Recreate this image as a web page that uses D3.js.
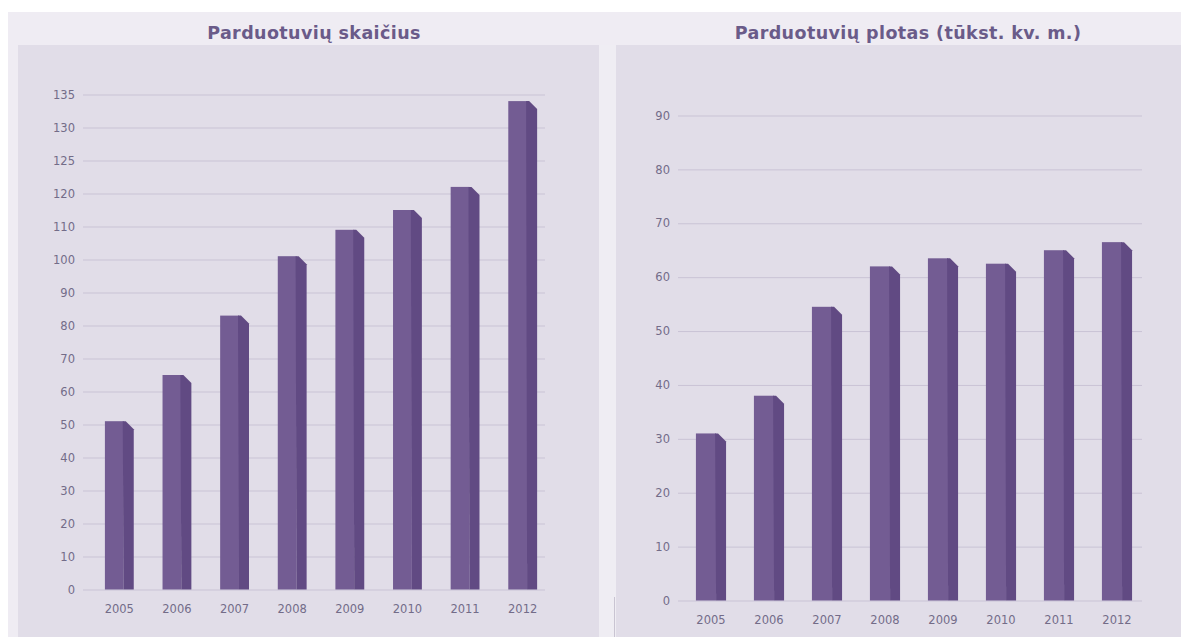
<!DOCTYPE html>
<html>
<head>
<meta charset="utf-8">
<script src="https://cdn.jsdelivr.net/npm/d3@7/dist/d3.min.js"></script>
<style>
  html, body { margin: 0; padding: 0; background: #ffffff; }
  svg { display: block; }
  .tick text { font-family: "DejaVu Sans", Verdana, sans-serif; font-size: 11.5px; fill: #736c88; }
  .title { font-family: "DejaVu Sans", Verdana, sans-serif; font-weight: bold; font-size: 17.5px; letter-spacing: 0.4px; fill: #6a5b89; }
</style>
</head>
<body>
<script>
// Years shown on both charts
const years = ["2005", "2006", "2007", "2008", "2009", "2010", "2011", "2012"];

// Number of stores per year
const storeCounts = [51, 65, 83, 101, 109, 115, 121, 134];
// Store floor area, thousand sq. m
const storeArea = [31, 38, 54.5, 62, 63.5, 62.5, 65, 66.5];

// Tick labels of the two value axes
const countTicks = [0, 10, 20, 30, 40, 50, 60, 70, 80, 90, 100, 110, 120, 125, 130, 135];
const areaTicks = [0, 10, 20, 30, 40, 50, 60, 70, 80, 90];

const titles = ["Parduotuvių skaičius", "Parduotuvių plotas (tūkst. kv. m.)"];

const W = 1181, H = 637;
const svg = d3.select("body").append("svg").attr("width", W).attr("height", H);

// panel backgrounds
svg.append("rect").attr("x", 0).attr("y", 0).attr("width", W).attr("height", H).attr("fill", "#ffffff");
svg.append("rect").attr("x", 8).attr("y", 12).attr("width", W - 8).attr("height", H - 12).attr("fill", "#efecf3");
svg.append("rect").attr("x", 18).attr("y", 45).attr("width", 581).attr("height", H - 45).attr("fill", "#e1dde8");
svg.append("rect").attr("x", 599).attr("y", 45).attr("width", 17).attr("height", H - 45).attr("fill", "#efedf3");
svg.append("rect").attr("x", 616).attr("y", 45).attr("width", W - 616).attr("height", H - 45).attr("fill", "#e1dde8");
svg.append("line").attr("x1", 614.5).attr("x2", 614.5).attr("y1", 597).attr("y2", H)
  .attr("stroke", "#c9c4d2").attr("stroke-width", 1);

const FRONT = "#735c93";
const SIDE = "#614a83";

function drawChart(opt) {
  const g = svg.append("g");

  g.append("text").attr("class", "title")
    .attr("x", opt.titleX).attr("y", 39)
    .attr("text-anchor", "middle")
    .text(opt.title);

  const x = d3.scaleBand().domain(years).range(opt.xRange).paddingInner(opt.pad).paddingOuter(opt.pad / 2);
  const y = opt.y;

  // horizontal grid with labels
  const yAxis = d3.axisLeft(y)
    .tickValues(opt.ticks)
    .tickSize(-(opt.gridEnd - opt.gridStart))
    .tickPadding(8)
    .tickFormat(d3.format("d"));
  const ya = g.append("g").attr("transform", `translate(${opt.gridStart},0)`).call(yAxis);
  ya.select(".domain").remove();
  ya.selectAll(".tick line").attr("stroke", "#c9c3d5").attr("stroke-width", 1);

  // category labels
  const xAxis = d3.axisBottom(x).tickSize(0).tickPadding(15);
  const xa = g.append("g").attr("transform", `translate(0,${y(0)})`).call(xAxis);
  xa.select(".domain").remove();

  // bars: a front face plus a darker bevelled side face
  const side = opt.side, bevel = 8;
  const bars = g.selectAll(".bar").data(opt.values).join("g").attr("class", "bar");
  bars.append("rect")
    .attr("x", (d, i) => x(years[i]))
    .attr("y", d => y(d))
    .attr("width", x.bandwidth() - side)
    .attr("height", d => y(0) - y(d))
    .attr("fill", FRONT);
  bars.append("path")
    .attr("d", (d, i) => {
      const x0 = x(years[i]) + x.bandwidth() - side;
      const x1 = x(years[i]) + x.bandwidth();
      const t = y(d), b = y(0);
      return `M${x0 - 1},${t}L${x0 + 2},${t}L${x1},${t + bevel}L${x1},${b}L${x0},${b}Z`;
    })
    .attr("fill", SIDE);
}

drawChart({
  title: titles[0],
  titleX: 314,
  values: storeCounts,
  ticks: countTicks,
  // evenly spaced labels: the top three steps are 5 units apart
  y: d3.scaleLinear().domain([0, 120, 135]).range([589.5, 193.5, 94.5]),
  gridStart: 83, gridEnd: 545,
  xRange: [90.5, 551.5],
  pad: 0.5,
  side: 10
});

drawChart({
  title: titles[1],
  titleX: 908,
  values: storeArea,
  ticks: areaTicks,
  y: d3.scaleLinear().domain([0, 90]).range([600.5, 115.5]),
  gridStart: 678, gridEnd: 1142,
  xRange: [682, 1146],
  pad: 0.48,
  side: 10
});
</script>
</body>
</html>
